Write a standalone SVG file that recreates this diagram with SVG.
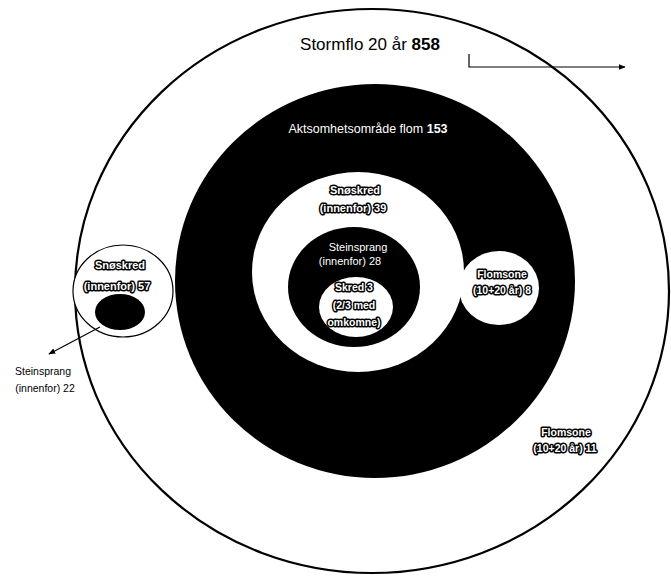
<svg xmlns="http://www.w3.org/2000/svg" width="671" height="576" viewBox="0 0 671 576">
<defs>
<style>
text{font-family:"Liberation Sans",Arial,sans-serif;text-anchor:middle}
.w{fill:#fff}
.o{fill:#fff;stroke:#000;stroke-width:3;paint-order:stroke;stroke-linejoin:round;font-weight:bold}
.k{fill:#000}
.line{fill:none;stroke:#000;stroke-width:1.2}
</style>
<marker id="ah" viewBox="0 0 10 10" refX="9" refY="5" markerWidth="7" markerHeight="7" orient="auto-start-reverse" markerUnits="userSpaceOnUse">
<path d="M0,1 L10,5 L0,9 Z" fill="#000"/>
</marker>
</defs>
<rect width="671" height="576" fill="#fff"/>
<g id="stormflo">
<ellipse cx="372" cy="291" rx="297" ry="282" fill="#fff" stroke="#000" stroke-width="2.2"/>
<text x="370" y="50" font-size="17" class="k">Stormflo 20 år <tspan font-weight="bold">858</tspan></text>
</g>
<g id="aktsomhet">
<ellipse cx="375" cy="281" rx="200" ry="197" fill="#000"/>
<text x="368" y="133" font-size="12.5" class="w">Aktsomhetsområde flom <tspan font-weight="bold">153</tspan></text>
</g>
<g id="snoskred39">
<ellipse cx="358" cy="272" rx="106" ry="100" fill="#fff"/>
<text x="355" y="194" font-size="11" class="o">Snøskred</text>
<text x="353" y="212" font-size="11" class="o">(innenfor) 39</text>
</g>
<g id="steinsprang28">
<ellipse cx="354" cy="287" rx="66" ry="60" fill="#000"/>
<text x="358" y="251" font-size="11" class="w">Steinsprang</text>
<text x="350" y="265" font-size="11" class="w">(innenfor) 28</text>
</g>
<g id="skred3">
<ellipse cx="356" cy="307" rx="37" ry="30" fill="#fff"/>
<text x="354" y="291" font-size="10.5" class="o">Skred 3</text>
<text x="354" y="309" font-size="10.5" class="o">(2/3 med</text>
<text x="354" y="326" font-size="10.5" class="o">omkomne)</text>
</g>
<g id="flomsone8">
<ellipse cx="499" cy="288" rx="40" ry="37" fill="#fff"/>
<text x="502" y="278" font-size="10.5" class="o">Flomsone</text>
<text x="502" y="294" font-size="10.5" class="o">(10+20 år) 8</text>
</g>
<g id="snoskred57">
<ellipse cx="123" cy="291" rx="50" ry="46" fill="#fff" stroke="#000" stroke-width="1.2"/>
<text x="120" y="269" font-size="11" class="o">Snøskred</text>
<text x="117" y="290" font-size="11" class="o">(innenfor) 57</text>
</g>
<g id="steinsprang22">
<ellipse cx="120" cy="312" rx="25" ry="18" fill="#000"/>
<text x="43" y="375" font-size="10.5" class="k">Steinsprang</text>
<text x="45" y="392" font-size="10.5" class="k">(innenfor) 22</text>
</g>
<g id="flomsone11">
<text x="566" y="436" font-size="10.5" class="o">Flomsone</text>
<text x="565" y="452" font-size="10.5" class="o">(10+20 år) 11</text>
</g>
<g id="connectors">
<path class="line" d="M100,327 L49,354" marker-end="url(#ah)"/>
<path class="line" d="M469,54 L469,67 L625,67" marker-end="url(#ah)"/>
</g>
</svg>
